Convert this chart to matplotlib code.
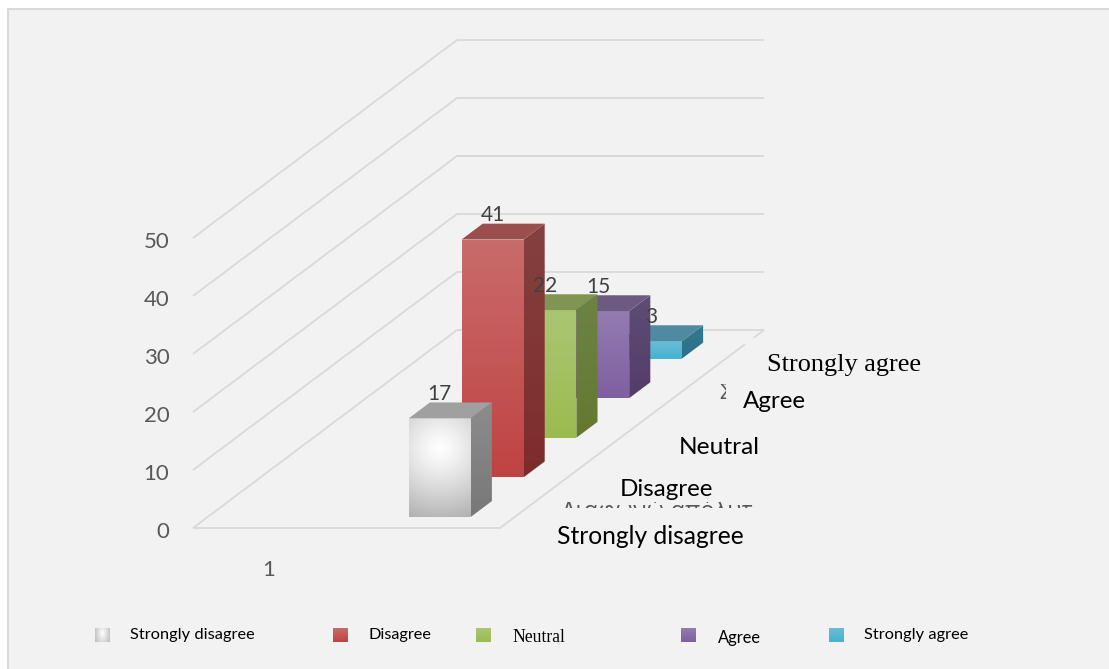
import matplotlib
matplotlib.use('Agg')
import matplotlib.pyplot as plt
import numpy as np
from matplotlib.patches import Polygon, Rectangle
from matplotlib.transforms import ScaledTranslation

series = ['Strongly disagree', 'Disagree', 'Neutral', 'Agree', 'Strongly agree']
values = [17, 41, 22, 15, 3]
y_ticks = [0, 10, 20, 30, 40, 50]
category = '1'

# front, top, side colours (top of gradient, bottom of gradient)
front_cols = [('#ffffff', '#b8b8b8'), ('#c96b6b', '#c04343'), ('#abc673', '#9bbb50'),
              ('#937cb0', '#7f5fa1'), ('#6cbcd5', '#44b2d2')]
top_cols = ['#a0a0a0', '#9a4f4d', '#7f9551', '#6c5a82', '#4f8ba0']
side_cols = [('#8c8c8c', '#787878'), ('#85413f', '#7d2c2b'), ('#6d8345', '#64792f'),
             ('#5e4d74', '#553c6a'), ('#33798f', '#2a7086')]

W, H = 1109, 669
fig = plt.figure(figsize=(W / 100, H / 100), dpi=100, facecolor='white')

# outer panel, only top and left edge show
fig.add_artist(Rectangle((8 / W, -0.01), 1.0, (H - 9) / H + 0.01, transform=fig.transFigure,
                         facecolor='#f2f2f2', edgecolor='#d9d9d9', linewidth=1.5, zorder=-5))

# front plane of the 3d box
ax = fig.add_axes([193 / W, (H - 528) / H, 307 / W, 290 / H])
ax.set_xlim(0, 1)
ax.set_ylim(0, 50)
ax.patch.set_visible(False)
for s in ax.spines.values():
    s.set_visible(False)
ax.set_yticks(y_ticks)
ax.set_xticks([76 / 307])
ax.set_xticklabels([category])
ax.tick_params(length=0, labelsize=16, labelcolor='#595959')
ax.tick_params(axis='y', pad=17)
ax.tick_params(axis='x', pad=23)
for t in ax.get_xticklabels() + ax.get_yticklabels():
    t.set_family('Lato')
down = ScaledTranslation(0, -2 / 100, fig.dpi_scale_trans)
for t in ax.get_yticklabels():
    t.set_transform(t.get_transform() + down)

# one series step in depth, in data units
dx = 52.8 / 307
dy = 39.6 / 5.8
depth_max = 5


def proj(x, v, d):
    return x + d * dx, v + d * dy


def line3d(pts, **kw):
    xy = [proj(*p) for p in pts]
    ax.plot([p[0] for p in xy], [p[1] for p in xy], clip_on=False, **kw)


def show_face(img, pts, zorder):
    xy = np.array([proj(*p) for p in pts])
    im = ax.imshow(img, extent=[xy[:, 0].min(), xy[:, 0].max(), xy[:, 1].min(), xy[:, 1].max()],
                   aspect='auto', zorder=zorder, origin='upper')
    im.set_clip_box(fig.bbox)
    im.set_clip_path(Polygon(xy, transform=ax.transData))


def ramp(c1, c2):
    a = np.array(matplotlib.colors.to_rgb(c1))
    b = np.array(matplotlib.colors.to_rgb(c2))
    return (a + (b - a) * np.linspace(0, 1, 64)[:, None])[:, None, :]


def glow():
    yy, xx = np.mgrid[0:1:100j, -1:1:60j]
    r = np.sqrt((xx * 31) ** 2 + ((yy - 0.3) * 99) ** 2) / 70
    g = 1 - 0.28 * r ** 1.2
    return np.dstack([g, g, g])


# walls
grid = dict(color='#d9d9d9', linewidth=1.3, zorder=1, solid_capstyle='butt')
for v in y_ticks:
    line3d([(0, v, 0), (0, v, depth_max), (1, v, depth_max)], **grid)
line3d([(0, 0, 0), (1, 0, 0), (1, 0, 4.64)], **grid)
line3d([(1, 0, 4.8), (1, 0, depth_max)], **grid)

# bars
bar_x = 201 / 307
bar_w = 62 / 307
for i, v in enumerate(values):
    z = 10 + (len(values) - i) * 5
    d0, d1 = i + 0.28, i + 0.68
    x0, x1 = bar_x, bar_x + bar_w
    front = [(x0, 0, d0), (x1, 0, d0), (x1, v, d0), (x0, v, d0)]
    top = [(x0, v, d0), (x1, v, d0), (x1, v, d1), (x0, v, d1)]
    side = [(x1, 0, d0), (x1, 0, d1), (x1, v, d1), (x1, v, d0)]
    if i == 0:
        show_face(glow(), front, z)
    else:
        show_face(ramp(*front_cols[i]), front, z)
    show_face(ramp(*side_cols[i]), side, z)
    ax.add_patch(Polygon([proj(*p) for p in top], facecolor=top_cols[i], edgecolor='none',
                         zorder=z, clip_on=False))
    # label sits above the back of the top, centred on the front face
    lx = proj((x0 + x1) / 2, v, d0)[0]
    ly = proj((x0 + x1) / 2, v, d1)[1]
    ax.text(lx, ly - 0.25, str(v), ha='center', va='bottom', fontsize=15, color='#404040',
            family='Lato', zorder=60)

ax.set_xlim(0, 1)
ax.set_ylim(0, 50)


def px_text(x, y, s, **kw):
    return fig.text(x / W, (H - y) / H, s, va='center', color='black', **kw)


# series names placed by hand next to the floor
px_text(767, 365, 'Strongly agree', fontsize=18.9, family='Liberation Serif')
px_text(743, 402, 'Agree', fontsize=17.4, family='Lato')
px_text(679, 447, 'Neutral', fontsize=17.6, family='Lato')
px_text(620, 489, 'Disagree', fontsize=17.4, family='Lato')
px_text(557, 536, 'Strongly disagree', fontsize=17.7, family='Lato')

# left over text under the pasted labels
old = px_text(562, 511, 'Διαφωνώ απόλυτα', fontsize=17, family='Open Sans')
old.set_color('#555555')
old.set_clip_path(Rectangle((555, H - 508), 200, 6, transform=None))
old2 = px_text(719, 392, 'Συμφωνώ', fontsize=16, family='Open Sans')
old2.set_color('#555555')
old2.set_clip_path(Rectangle((715, H - 400), 11, 16, transform=None))

# legend
leg_x = [95, 333, 476, 681, 829]
leg_tx = [130, 368, 512, 718, 864]
leg_ty = [634.5, 634.5, 637, 637.5, 634.5]
leg_fs = [11.8, 11.7, 12.7, 11.9, 11.8]
leg_fam = ['Lato', 'Lato', 'Liberation Serif', 'Lato', 'Lato']
for i, name in enumerate(series):
    sw = fig.add_axes([leg_x[i] / W, (H - 642) / H, 15 / W, 14 / H])
    sw.axis('off')
    if i == 0:
        yy, xx = np.mgrid[0:1:32j, -1:1:32j]
        g = 1 - 0.22 * np.sqrt(xx ** 2 + (yy - 0.35) ** 2)
        sw.imshow(np.dstack([g, g, g]), aspect='auto')
    else:
        sw.imshow(ramp(*front_cols[i]), aspect='auto')
    px_text(leg_tx[i], leg_ty[i], name, fontsize=leg_fs[i], family=leg_fam[i])

fig.savefig('out.png', dpi=100, facecolor='white')
